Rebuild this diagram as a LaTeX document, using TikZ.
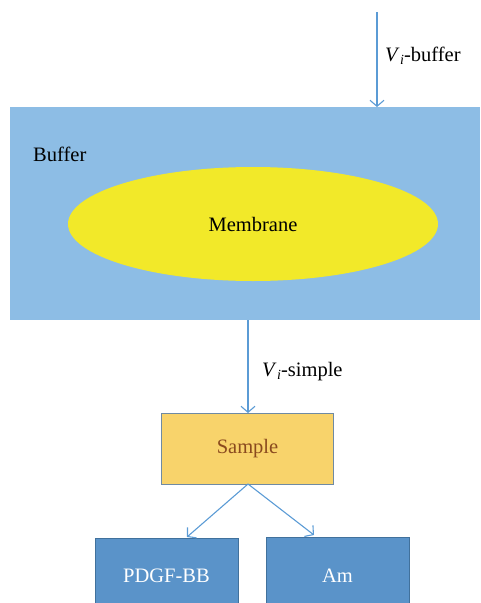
\documentclass[tikz,border=0pt]{standalone}
\usepackage{fontspec}
\setmainfont{Liberation Serif}
\usetikzlibrary{arrows.meta,shapes.geometric}
\definecolor{bufblue}{HTML}{8DBDE5}
\definecolor{memyel}{HTML}{F2E929}
\definecolor{samfill}{HTML}{F8D36B}
\definecolor{samtext}{HTML}{8A4A1E}
\definecolor{boxblue}{HTML}{5A93C9}
\definecolor{boxedge}{HTML}{41719C}
\definecolor{arrblue}{HTML}{5B9BD5}
\definecolor{samedge}{HTML}{6F8AA3}
\newcommand{\Vi}{\textit{V}\kern0.5pt\raisebox{-0.3ex}{\fontsize{14}{14}\selectfont\textit{i}}}
\tikzset{
  lbl/.style={font=\fontsize{20.5}{22}\selectfont, inner sep=0pt},
  conn/.style={draw=arrblue, line width=1.1pt, -{Straight Barb[length=6pt,width=14pt]}},
  outbox/.style={draw=boxedge, line width=1pt, fill=boxblue, minimum width=143pt, minimum height=66pt, inner sep=0pt}
}
\begin{document}
\begin{tikzpicture}[x=1pt,y=-1pt]
\useasboundingbox (0,0) rectangle (480,603);
\node[fill=bufblue, minimum width=470pt, minimum height=213pt, inner sep=0pt, anchor=north west] (buffer) at (10,107) {};
\node[lbl, anchor=west] (buflbl) at (33,154) {Buffer};
\node[ellipse, fill=memyel, minimum width=370pt, minimum height=114pt, inner sep=0pt] (mem) at (253,224) {};
\node[lbl] (memlbl) at (253,224) {Membrane};
\coordinate (topstart) at (377,12);
\coordinate (topend) at (377,107);
\draw[conn] (topstart) -- (topend);
\node[lbl, anchor=west] (vbuf) at (385,56) {\Vi-buffer};
\node[draw=samedge, line width=1pt, fill=samfill, minimum width=172pt, minimum height=71pt, inner sep=0pt, anchor=north west, text=samtext, font=\fontsize{20.5}{22}\selectfont] (sample) at (161,413) {Sample};
\coordinate (bufout) at (248,320);
\draw[conn] (bufout) -- (sample.north -| bufout);
\node[lbl, anchor=west] (vsim) at (262,372) {\Vi-simple};
\node[outbox, anchor=north west] (pdgf) at (95,538) {};
\node[outbox, anchor=north west] (am) at (266,537) {};
\node[lbl, text=white] (pdgflbl) at (166.5,576) {PDGF-BB};
\node[lbl, text=white] (amlbl) at (337.5,576) {Am};
\coordinate (split) at (248,484);
\coordinate (pdgfin) at (187,537);
\coordinate (amin) at (314,535);
\draw[conn] (split) -- (pdgfin);
\draw[conn] (split) -- (amin);
\end{tikzpicture}
\end{document}
